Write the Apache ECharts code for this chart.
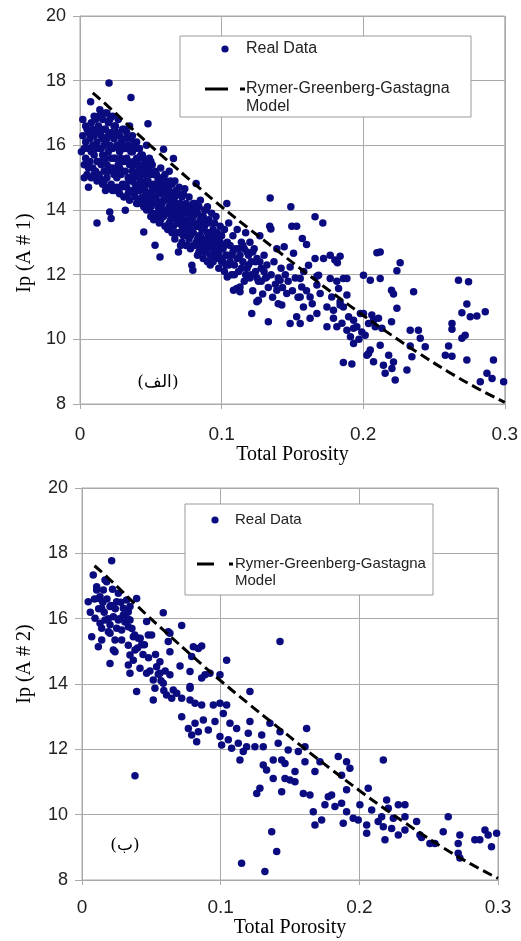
<!DOCTYPE html>
<html>
<head>
<meta charset="utf-8">
<script src="https://cdn.jsdelivr.net/npm/echarts@6/dist/echarts.min.js"></script>
<style>html,body{margin:0;padding:0;background:#fff}#c{width:521px;height:941px}</style>
</head>
<body>
<div id="c"></div>
<script>
// ---------- DATA ----------
const xTicks = ['0', '0.1', '0.2', '0.3'];
const yTicks = [8, 10, 12, 14, 16, 18, 20];

// Model curve (Rymer-Greenberg-Gastagna), porosity vs Ip
const modelPorosity = [0.009,0.02,0.04,0.06,0.08,0.10,0.12,0.14,0.16,0.18,0.20,0.22,0.24,0.26,0.28,0.30];
const modelIp       = [17.62,17.2,16.38,15.6,14.84,14.1,13.4,12.72,12.04,11.38,10.74,10.13,9.55,9.0,8.5,8.05];

// Real data, chart (الف): [porosity, Ip]
const realDataA1 = [
[0.001,15.8],[0.002,16.3],[0.003,15.9],[0.003,15.4],[0.004,16.1],[0.004,15.6],[0.005,16.5],[0.005,15.1],[0.006,14.7],[0.006,15.9],[0.007,16.2],[0.007,15.5],[0.0075,17.35],[0.008,16.7],[0.008,15.0],[0.009,16.0],[0.009,15.3],[0.010,16.9],[0.010,15.7],
[0.002,16.8],[0.003,15.0],[0.004,16.6],[0.006,16.4],[0.006,15.3],[0.008,15.8],[0.009,16.5],[0.010,15.1],[0.010,16.3],
[0.011,16.4],[0.011,15.2],[0.012,13.6],[0.012,16.1],[0.012,14.9],[0.013,16.6],[0.013,15.5],[0.014,17.1],[0.014,15.9],[0.014,15.0],[0.015,16.3],[0.015,15.4],[0.016,16.8],[0.016,15.7],[0.016,14.8],[0.017,16.0],[0.017,15.2],[0.018,16.5],[0.018,15.6],[0.018,14.6],[0.019,17.0],[0.019,16.2],[0.019,15.0],[0.020,15.8],[0.020,16.7],[0.0205,17.93],
[0.011,15.9],[0.011,16.8],[0.012,15.5],[0.013,15.1],[0.013,16.9],[0.014,16.4],[0.015,15.9],[0.015,14.9],[0.015,16.9],[0.016,16.2],[0.017,15.6],[0.017,16.5],[0.017,14.9],[0.018,16.0],[0.018,17.0],[0.019,15.4],[0.020,15.2],[0.020,16.3],[0.020,14.7],
[0.021,13.94],[0.021,15.3],[0.022,13.74],[0.022,16.4],[0.022,14.8],[0.023,15.9],[0.023,16.9],[0.024,15.1],[0.024,16.2],[0.025,14.6],[0.025,15.6],[0.025,16.6],[0.026,15.0],[0.026,16.0],[0.027,15.4],[0.027,16.8],[0.028,14.5],[0.028,15.8],[0.028,16.3],[0.029,15.1],[0.029,16.1],[0.030,14.8],[0.030,15.5],[0.030,16.5],
[0.021,16.0],[0.021,16.8],[0.022,15.6],[0.023,15.3],[0.023,14.6],[0.024,16.6],[0.024,15.6],[0.025,15.2],[0.026,16.4],[0.026,14.7],[0.027,15.9],[0.028,15.3],[0.029,14.7],[0.029,15.6],[0.030,16.0],[0.030,15.2],
[0.031,15.9],[0.031,14.4],[0.032,13.99],[0.032,15.2],[0.032,16.2],[0.033,14.7],[0.033,15.6],[0.034,16.0],[0.034,15.0],[0.035,14.3],[0.035,15.4],[0.035,16.6],[0.036,17.48],[0.036,14.9],[0.036,15.8],[0.037,15.2],[0.037,16.3],[0.038,14.5],[0.038,15.5],[0.039,14.8],[0.039,15.9],[0.040,15.1],[0.040,14.2],[0.040,16.1],
[0.031,15.5],[0.031,16.5],[0.032,14.8],[0.033,15.9],[0.033,16.4],[0.034,14.5],[0.034,15.5],[0.035,15.0],[0.036,15.4],[0.036,16.2],[0.037,14.6],[0.037,15.8],[0.038,16.0],[0.038,15.0],[0.039,14.4],[0.039,15.4],[0.040,15.6],[0.040,14.7],
[0.041,15.6],[0.041,14.6],[0.042,15.0],[0.042,15.9],[0.043,14.3],[0.043,15.3],[0.044,14.8],[0.044,15.7],[0.045,13.32],[0.045,14.1],[0.045,15.2],[0.046,14.6],[0.046,15.5],[0.047,14.0],[0.047,14.9],[0.047,16.0],[0.048,16.67],[0.048,15.3],[0.048,14.4],[0.049,14.8],[0.049,15.6],[0.050,13.8],[0.050,14.5],[0.050,15.1],
[0.041,15.2],[0.041,14.2],[0.042,14.6],[0.042,15.4],[0.043,14.9],[0.043,15.7],[0.044,14.4],[0.044,15.2],[0.045,14.7],[0.045,15.6],[0.046,14.2],[0.046,15.1],[0.047,14.5],[0.047,15.4],[0.048,14.9],[0.049,14.2],[0.049,15.2],[0.050,14.1],[0.050,15.5],
[0.051,14.2],[0.051,15.4],[0.052,14.8],[0.052,13.7],[0.053,12.91],[0.053,14.4],[0.053,15.2],[0.054,13.9],[0.054,14.7],[0.055,14.1],[0.055,15.0],[0.0565,12.55],[0.056,13.6],[0.056,14.5],[0.057,15.3],[0.057,14.0],[0.058,14.8],[0.058,13.8],[0.059,15.88],[0.059,14.3],[0.060,13.5],[0.060,14.6],[0.060,15.1],
[0.051,14.6],[0.051,13.9],[0.052,14.3],[0.052,15.1],[0.053,13.8],[0.053,14.8],[0.054,14.3],[0.054,15.1],[0.055,13.7],[0.055,14.6],[0.056,14.1],[0.056,14.9],[0.057,13.7],[0.057,14.5],[0.058,14.2],[0.058,15.0],[0.059,13.8],[0.059,14.7],[0.060,14.0],
[0.061,13.9],[0.061,14.9],[0.062,14.3],[0.062,13.4],[0.063,14.6],[0.063,15.2],[0.064,13.7],[0.064,14.1],[0.065,14.8],[0.065,13.3],[0.066,15.59],[0.066,14.4],[0.067,13.9],[0.067,13.1],[0.068,14.6],[0.068,14.2],[0.069,13.6],[0.0695,12.7],[0.070,14.0],[0.070,13.3],[0.070,14.7],
[0.061,14.4],[0.061,13.5],[0.062,14.7],[0.062,13.9],[0.063,14.1],[0.063,13.6],[0.064,14.5],[0.064,14.9],[0.065,14.3],[0.065,13.8],[0.066,13.5],[0.066,14.0],[0.067,14.4],[0.067,14.9],[0.068,13.7],[0.068,13.3],[0.069,14.1],[0.069,14.5],[0.070,13.6],
[0.071,13.8],[0.071,12.9],[0.072,14.4],[0.072,13.5],[0.073,14.1],[0.073,13.2],[0.074,14.66],[0.074,13.7],[0.075,12.9],[0.075,14.2],[0.076,13.4],[0.076,13.9],[0.077,14.4],[0.077,13.1],[0.078,13.6],[0.078,12.8],[0.079,12.29],[0.0797,12.14],[0.079,14.0],[0.080,13.3],[0.080,13.8],
[0.071,14.2],[0.071,13.3],[0.072,13.9],[0.072,13.0],[0.073,13.6],[0.073,14.5],[0.074,13.3],[0.074,14.1],[0.075,13.6],[0.075,13.4],[0.076,14.0],[0.076,12.9],[0.077,13.7],[0.078,14.1],[0.078,13.2],[0.079,13.5],[0.080,12.9],[0.080,14.2],
[0.081,12.9],[0.081,14.2],[0.082,14.82],[0.082,13.5],[0.083,13.1],[0.083,13.9],[0.084,12.7],[0.084,13.6],[0.085,14.3],[0.085,13.2],[0.086,12.9],[0.086,13.8],[0.087,13.4],[0.087,12.5],[0.088,14.0],[0.088,13.0],[0.089,13.6],[0.089,12.7],[0.090,13.3],[0.090,12.4],[0.090,14.1],
[0.081,13.6],[0.082,13.0],[0.082,14.0],[0.083,13.5],[0.083,12.6],[0.084,13.2],[0.084,14.1],[0.085,12.8],[0.085,13.7],[0.086,13.4],[0.087,13.8],[0.087,13.0],[0.088,12.7],[0.088,13.5],[0.089,13.1],[0.089,14.0],[0.090,12.8],
[0.091,12.9],[0.091,13.7],[0.092,13.2],[0.092,12.6],[0.093,13.9],[0.093,12.4],[0.094,13.4],[0.094,12.8],[0.095,13.1],[0.095,13.6],[0.096,12.5],[0.096,13.8],[0.097,12.9],[0.097,13.3],[0.098,12.2],[0.098,12.7],[0.099,13.5],[0.099,13.0],[0.100,12.4],[0.100,13.2],
[0.091,13.3],[0.092,13.6],[0.092,12.3],[0.093,13.0],[0.094,13.0],[0.094,12.4],[0.095,12.7],[0.096,13.2],[0.097,12.6],[0.098,13.1],[0.099,12.5],[0.100,12.9],
[0.1037,14.2],[0.101,12.8],[0.102,12.1],[0.102,13.4],[0.103,12.6],[0.104,11.93],[0.104,13.0],[0.105,12.3],[0.105,13.6],[0.106,12.9],[0.107,12.0],[0.107,12.6],[0.108,13.2],[0.1084,11.52],[0.109,12.3],[0.1107,11.57],[0.110,12.8],[0.111,13.4],[0.112,12.1],[0.113,11.47],[0.113,11.62],[0.113,12.6],[0.114,13.0],[0.115,12.4],[0.116,11.8],[0.116,12.8],[0.117,13.3],[0.118,12.2],[0.119,12.6],[0.120,11.9],[0.120,13.0],
[0.101,12.4],[0.102,12.9],[0.103,12.3],[0.104,12.6],[0.106,12.4],[0.108,12.7],[0.109,12.0],[0.111,12.5],[0.112,12.8],[0.114,12.2],[0.115,12.9],[0.117,12.0],[0.118,12.7],[0.119,12.3],[0.121,12.0],[0.122,12.7],[0.124,12.4],[0.125,11.9],[0.127,12.4],[0.128,11.8],[0.130,12.1],
[0.1213,10.8],[0.121,12.4],[0.122,11.5],[0.123,12.8],[0.124,12.1],[0.1249,11.16],[0.125,12.5],[0.126,11.21],[0.126,11.8],[0.127,13.2],[0.128,12.2],[0.129,11.4],[0.130,12.6],[0.131,11.9],[0.1319,11.93],[0.132,12.3],[0.133,10.54],[0.133,11.6],[0.134,13.5],[0.1343,14.37],[0.1348,13.41],[0.135,12.0],[0.136,11.3],[0.137,12.4],[0.138,11.7],[0.139,11.52],[0.139,12.8],[0.140,11.9],[0.140,11.1],
[0.1413,11.83],[0.142,12.2],[0.1425,11.06],[0.143,11.6],[0.1442,12.86],[0.145,12.0],[0.146,11.42],[0.147,11.8],[0.1484,12.24],[0.1484,10.49],[0.1489,14.1],[0.1496,13.5],[0.150,11.5],[0.1508,12.66],[0.152,11.9],[0.153,13.5],[0.153,10.7],[0.154,11.3],[0.1555,11.88],[0.1555,11.31],[0.1555,10.49],[0.1566,11.62],[0.157,13.12],[0.1578,11.0],[0.158,12.1],[0.160,12.93],[0.160,11.5],[0.1614,12.29],[0.1625,11.31],[0.1625,10.65],[0.164,11.1],
[0.166,13.79],[0.1715,13.6],[0.1673,11.95],[0.1673,11.68],[0.1673,10.8],[0.1685,11.98],[0.1696,11.42],[0.166,12.5],[0.172,12.5],[0.1744,11.0],[0.1744,10.39],[0.1767,11.88],[0.1767,12.6],[0.1778,11.31],[0.179,10.65],[0.179,10.9],[0.180,12.45],[0.1814,11.8],[0.1814,10.39],[0.1818,12.37],[0.1826,11.57],[0.1837,12.57],[0.1837,11.16],[0.1837,11.06],[0.185,10.5],[0.186,11.88],[0.186,11.0],[0.186,9.28],[0.1885,11.37],[0.1885,11.88],[0.1885,10.28],[0.1897,10.7],[0.191,10.08],[0.192,9.24],[0.1932,10.59],[0.1932,10.34],[0.1932,9.87],[0.1955,10.39],[0.197,10.0],[0.198,10.8],[0.199,10.23],[0.2002,11.98],[0.2002,10.8],[0.2014,10.13],[0.2026,9.51],[0.2038,10.49],[0.2038,9.56],[0.205,9.67],[0.205,11.83],[0.2061,10.75],[0.2073,10.59],[0.2073,9.31],[0.2085,10.39],[0.2097,12.68],[0.2108,10.65],
[0.212,12.7],[0.212,11.88],[0.212,9.82],[0.2132,10.34],[0.2143,9.2],[0.2155,8.95],[0.218,9.51],[0.220,11.52],[0.220,10.54],[0.2203,9.1],[0.2214,11.4],[0.2214,9.3],[0.2226,8.74],[0.2238,12.12],[0.2238,10.96],[0.2261,12.37],[0.2309,9.05],[0.2332,10.28],[0.2332,9.79],[0.2344,9.46],[0.2356,11.47],[0.239,10.28],[0.2403,10.03],[0.2438,9.77],[0.2580,9.51],[0.2603,9.79],[0.2627,10.49],[0.2627,10.31],[0.2627,9.48],[0.2673,11.83],[0.2697,10.82],[0.2697,10.03],[0.272,10.13],[0.2732,11.09],[0.2732,9.36],[0.2744,11.78],[0.2756,10.70],[0.2803,10.72],[0.2827,8.69],[0.2862,10.85],[0.2874,8.95],[0.291,8.79],[0.292,9.36],[0.2992,8.69]
];

// Real data, chart (ب): [porosity, Ip]
const realDataA2 = [
[0.0045,16.52],[0.007,15.45],[0.0081,17.34],[0.0094,16.01],[0.0106,16.88],[0.0106,16.98],[0.0118,16.62],[0.0118,15.14],[0.013,15.86],[0.013,16.67],[0.0142,16.32],[0.0142,15.71],[0.0142,15.35],[0.0154,16.88],[0.0166,17.18],[0.0166,15.96],[0.0178,17.13],[0.019,15.60],[0.0202,16.37],[0.0202,15.81],[0.0202,14.63],[0.0202,15.55],[0.0214,17.77],[0.0226,16.06],[0.0226,15.04],[0.0238,14.99],[0.0238,15.35],[0.025,16.52],[0.025,15.71],[0.0262,16.78],[0.0262,15.96],[0.0286,15.65],[0.0286,15.35],[0.0298,16.32],[0.0298,16.11],[0.0322,16.57],[0.0334,16.21],[0.0334,15.75],[0.0334,15.19],[0.0334,14.58],[0.0346,16.37],[0.0346,15.96],[0.0346,14.89],[0.0346,14.33],[0.037,15.45],[0.037,14.73],[0.0382,15.04],[0.0382,11.19],[0.0394,16.62],[0.0394,13.77],[0.0406,15.40],[0.0418,14.48],[0.043,15.2],[0.0466,15.91],[0.0466,14.33],[0.0478,15.50],[0.0502,15.50],[0.0514,14.12],[0.0514,13.51],[0.0526,13.87],[0.0538,14.53],[0.0562,14.33],[0.0562,14.68],[0.0586,16.18],[0.0586,14.02],[0.061,13.66],[0.0622,15.60],[0.0622,15.30],[0.0634,14.99],[0.0634,14.28],[0.0634,15.55],[0.0647,13.56],[0.0658,13.82],[0.0683,13.72],[0.0707,14.55],[0.0719,15.79],[0.0719,13.56],[0.0719,13.0],[0.0767,12.64],[0.0779,14.38],[0.0779,13.51],[0.0779,13.92],[0.0779,13.87],[0.0791,14.84],[0.0791,12.44],[0.0803,15.14],[0.0815,13.41],[0.0815,12.80],[0.0827,12.23],[0.0839,15.09],[0.0839,12.54],[0.0863,15.16],[0.0863,14.18],[0.0863,13.36],[0.0875,12.90],[0.0887,14.28],[0.0911,12.59],[0.0923,14.33],[0.0947,13.36],[0.0959,12.85],[0.0995,14.28],[0.0995,13.41],[0.0995,12.39],[0.1007,12.13],[0.1019,13.10],[0.1043,14.73],[0.1043,13.36],[0.1055,12.29],[0.1067,12.80],[0.1079,12.03],[0.1115,12.64],[0.1127,12.19],[0.1139,11.67],[0.1151,8.51],[0.1163,11.93],[0.1187,12.08],[0.1199,12.49],[0.1211,12.85],[0.1211,13.77],[0.1247,12.08],[0.126,10.65],[0.1283,10.81],[0.1296,12.44],[0.1307,12.08],[0.1307,11.52],[0.1319,8.26],[0.1331,11.37],[0.1355,12.80],[0.1368,9.48],[0.1379,11.67],[0.1379,11.11],[0.1404,8.87],[0.1415,12.19],[0.1428,15.30],[0.1428,12.54],[0.144,11.67],[0.144,10.70],[0.1464,11.57],[0.1464,11.11],[0.1487,11.98],[0.15,11.06],[0.1536,11.01],[0.1536,11.32],[0.156,11.93],[0.1596,10.65],[0.1608,11.62],[0.1608,12.08],[0.162,12.64],[0.1644,10.60],[0.168,11.32],[0.1668,10.09],[0.168,9.68],[0.1716,11.62],[0.1728,9.84],[0.1752,10.30],[0.1776,10.55],[0.18,10.60],[0.1824,10.25],[0.1848,11.78],[0.1872,10.35],[0.1872,11.21],[0.1884,9.74],[0.1908,10.76],[0.1908,11.62],[0.1908,10.09],[0.1932,11.42],[0.1956,9.89],[0.1992,9.84],[0.2004,10.30],[0.2053,9.68],[0.2053,9.43],[0.2064,10.81],[0.2089,10.14],[0.2136,9.79],[0.2161,9.94],[0.2173,11.67],[0.2173,9.63],[0.2185,9.23],[0.2197,10.45],[0.2209,10.20],[0.2233,9.58],[0.2245,9.89],[0.2281,9.38],[0.2281,10.30],[0.2329,9.94],[0.2329,10.30],[0.2329,9.53],[0.2413,9.79],[0.2437,9.38],[0.2449,9.3],[0.2509,9.12],[0.2545,9.12],[0.2605,9.48],[0.2641,9.94],[0.2713,8.82],[0.2713,9.12],[0.2725,8.67],[0.2725,9.38],[0.2833,9.23],[0.2869,9.23],[0.2906,9.53],[0.2929,9.38],[0.2953,9.02],[0.299,9.43],
[0.006,16.2],[0.009,16.6],[0.012,16.3],[0.015,16.5],[0.016,16.2],[0.018,16.6],[0.019,16.0],[0.021,16.4],[0.022,16.9],[0.024,16.3],[0.027,16.0],[0.028,16.5],[0.031,15.9],[0.033,16.0],[0.036,15.7],[0.038,15.5],[0.040,15.1],[0.042,15.4],[0.044,14.9],[0.045,15.2],[0.048,14.8],[0.049,14.4],[0.053,14.9],[0.055,14.3],[0.057,14.1],[0.059,13.8],[0.060,14.4]
];

const seriesNames = ['Real Data', 'Rymer-Greenberg-Gastagna\nModel'];
const yAxisNames = ['Ip (A # 1)', 'Ip (A # 2)'];
const xAxisName = 'Total Porosity';
const panelTags = ['(الف)', '(ب)'];

// ---------- CHART ----------
const chart = echarts.init(document.getElementById('c'), null, {renderer: 'canvas'});
const DOT = '#0b0b80';
const GRIDC = '#a9a9a9';
const modelData = modelPorosity.map((p, i) => [p, modelIp[i]]);

function xAx(idx, margin, gap) {
  return {
    type: 'value', gridIndex: idx, min: 0, max: 0.3, interval: 0.1,
    name: xAxisName, nameLocation: 'middle', nameGap: gap,
    nameTextStyle: {fontFamily: 'Liberation Serif', fontSize: 20, color: '#000'},
    axisLine: {show: true, lineStyle: {color: GRIDC, width: 1}},
    axisTick: {show: true, length: 5, lineStyle: {color: GRIDC}},
    axisLabel: {fontFamily: 'Liberation Sans', fontSize: 19, color: '#222', margin: margin,
      formatter: v => xTicks[Math.round(v * 10)]},
    splitLine: {show: true, lineStyle: {color: GRIDC, width: 1}}
  };
}
function yAx(idx, name, gap, pad) {
  return {
    type: 'value', gridIndex: idx, min: yTicks[0], max: yTicks[yTicks.length - 1], interval: 2,
    name: name, nameLocation: 'middle', nameGap: gap, nameRotate: 90,
    nameTextStyle: {fontFamily: 'Liberation Serif', fontSize: 20, color: '#000', padding: pad},
    axisLine: {show: true, lineStyle: {color: GRIDC, width: 1}},
    axisTick: {show: true, length: 7, lineStyle: {color: GRIDC}},
    axisLabel: {fontFamily: 'Liberation Sans', fontSize: 18, color: '#222', margin: 14},
    splitLine: {show: true, lineStyle: {color: GRIDC, width: 1}}
  };
}

function legendBox(x, y, w, h, dotX, dotY, txtX, line1Y, lineX0, lineX1, shortX0, shortX1, fs) {
  return [
    {type: 'rect', shape: {x: x, y: y, width: w, height: h},
      style: {fill: '#fff', stroke: '#9a9a9a', lineWidth: 1}, z: 10},
    {type: 'circle', shape: {cx: dotX, cy: dotY, r: 3.6}, style: {fill: DOT}, z: 11},
    {type: 'text', x: txtX, y: dotY, style: {text: seriesNames[0], fill: '#222',
      font: fs + 'px "Liberation Sans"', verticalAlign: 'middle', align: 'left'}, z: 11},
    {type: 'line', shape: {x1: lineX0, y1: line1Y, x2: lineX1, y2: line1Y},
      style: {stroke: '#000', lineWidth: 3}, z: 11},
    {type: 'line', shape: {x1: shortX0, y1: line1Y, x2: shortX1, y2: line1Y},
      style: {stroke: '#000', lineWidth: 3}, z: 11},
    {type: 'text', x: txtX, y: line1Y - fs * 0.56, style: {text: seriesNames[1], fill: '#222',
      font: fs + 'px "Liberation Sans"', lineHeight: fs + 2, verticalAlign: 'top', align: 'left'}, z: 11}
  ];
}

const option = {
  animation: false,
  backgroundColor: '#fff',
  grid: [
    {left: 80, right: 16, top: 16, height: 388, show: true, borderColor: GRIDC, borderWidth: 1},
    {left: 82, right: 23, top: 488, height: 392, show: true, borderColor: GRIDC, borderWidth: 1}
  ],
  xAxis: [xAx(0, 21, 38), xAx(1, 18, 36)],
  yAxis: [yAx(0, yAxisNames[0], 45, [0, 86, 0, 0]), yAx(1, yAxisNames[1], 47, [0, 0, 0, 40])],
  series: [
    {type: 'scatter', name: 'Real Data', xAxisIndex: 0, yAxisIndex: 0, data: realDataA1,
      symbol: 'circle', symbolSize: 7.5, itemStyle: {color: DOT, opacity: 1}, z: 3},
    {type: 'line', name: 'Model', xAxisIndex: 0, yAxisIndex: 0, data: modelData, smooth: true,
      symbol: 'none', lineStyle: {color: '#000', width: 3, type: [10, 5]}, z: 4},
    {type: 'scatter', name: 'Real Data', xAxisIndex: 1, yAxisIndex: 1, data: realDataA2,
      symbol: 'circle', symbolSize: 7.5, itemStyle: {color: DOT, opacity: 1}, z: 3},
    {type: 'line', name: 'Model', xAxisIndex: 1, yAxisIndex: 1, data: modelData, smooth: true,
      symbol: 'none', lineStyle: {color: '#000', width: 3, type: [10, 5]}, z: 4}
  ],
  graphic: [].concat(
    legendBox(180, 36, 291, 81, 225, 49, 246, 89, 205, 228, 240, 245, 16),
    legendBox(185, 504, 248, 91, 215, 520, 235, 564, 197, 214, 229, 233, 15),
    [
      {type: 'text', x: 158, y: 383, style: {text: panelTags[0], fill: '#000',
        font: '17px "DejaVu Serif", "Liberation Serif", serif', align: 'center', verticalAlign: 'middle'}, z: 11},
      {type: 'text', x: 125, y: 846, style: {text: panelTags[1], fill: '#000',
        font: '17px "DejaVu Serif", "Liberation Serif", serif', align: 'center', verticalAlign: 'middle'}, z: 11}
    ]
  )
};
chart.setOption(option);
</script>
</body>
</html>
